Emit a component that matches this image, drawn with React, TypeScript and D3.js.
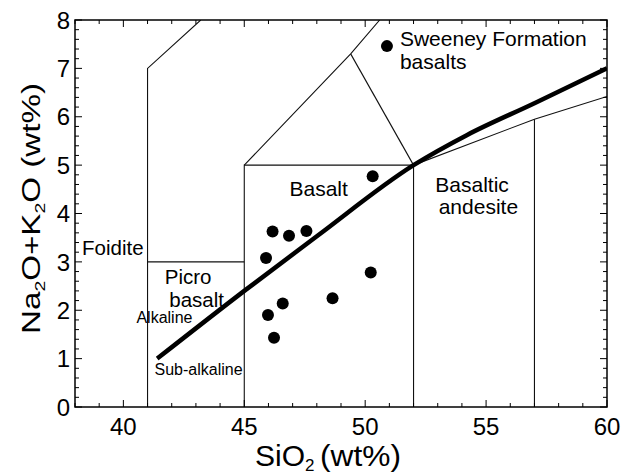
import React from "react";
import * as d3 from "d3";

// ---- Data ----
const sampleSiO2 = [50.31, 46.17, 46.85, 47.57, 45.9, 50.23, 48.65, 46.59, 45.98, 46.23];
const sampleAlk = [4.77, 3.63, 3.54, 3.64, 3.08, 2.78, 2.25, 2.14, 1.9, 1.43];

const legendLabel = ["Sweeney Formation", "basalts"];
const legendPoint: [number, number] = [50.9, 7.46];

// TAS field boundaries (SiO2, Na2O+K2O)
const boundaries: [number, number][][] = [
  [[41, 0], [41, 7], [43.2, 8]],
  [[41, 3], [45, 3]],
  [[45, 0], [45, 5], [52, 5], [52, 0]],
  [[45, 5], [49.4, 7.3], [50.6, 8]],
  [[49.4, 7.3], [52, 5]],
  [[52, 5], [57, 5.95], [60, 6.42]],
  [[57, 0], [57, 5.95]],
];

// Alkaline / sub-alkaline divide
const divideSiO2 = [41.4, 45, 48, 52, 54.2, 57, 60];
const divideAlk = [1.0, 2.4, 3.53, 5.0, 5.62, 6.28, 7.0];

const xTickLabels = [40, 45, 50, 55, 60];
const yTickLabels = [0, 1, 2, 3, 4, 5, 6, 7, 8];

const fieldLabels = [
  { text: "Foidite", x: 38.29, y: 3.14, size: 20.5 },
  { text: "Picro", x: 41.71, y: 2.55, size: 20.5 },
  { text: "basalt", x: 41.9, y: 2.07, size: 20.5 },
  { text: "Alkaline", x: 40.54, y: 1.73, size: 16 },
  { text: "Sub-alkaline", x: 41.29, y: 0.66, size: 16 },
  { text: "Basalt", x: 46.87, y: 4.36, size: 21 },
  { text: "Basaltic", x: 52.9, y: 4.45, size: 21 },
  { text: "andesite", x: 53.04, y: 4.0, size: 21 },
];

const W = 635;
const H = 476;
const M = { left: 75, top: 20, right: 607, bottom: 407 };
const FONT = "'Liberation Sans', Arial, sans-serif";

export default function App() {
  const x = d3.scaleLinear().domain([38, 60]).range([M.left, M.right]);
  const y = d3.scaleLinear().domain([0, 8]).range([M.bottom, M.top]);
  const line = d3
    .line<[number, number]>()
    .x((d) => x(d[0]))
    .y((d) => y(d[1]));

  const xMinor = d3.range(38, 60.001, 1);
  const yMinor = d3.range(0, 8.001, 0.2).map((v) => Math.round(v * 10) / 10);
  const isMajorX = (v: number) => Math.abs(v % 5) < 1e-6;
  const isMajorY = (v: number) => Math.abs(v - Math.round(v)) < 1e-6;

  const divide: [number, number][] = divideSiO2.map((s, i) => [s, divideAlk[i]]);

  return (
    <svg
      width={W}
      height={H}
      style={{ position: "absolute", left: 0, top: 0, background: "#fff" }}
      fontFamily={FONT}
    >
      <rect x={0} y={0} width={W} height={H} fill="#fff" />
      <defs>
        <clipPath id="plot">
          <rect x={M.left} y={M.top} width={M.right - M.left} height={M.bottom - M.top} />
        </clipPath>
      </defs>

      {/* field boundaries */}
      <g clipPath="url(#plot)" fill="none" stroke="#111" strokeWidth={1.1}>
        {boundaries.map((b, i) => (
          <path key={i} d={line(b) || ""} />
        ))}
        <path
          d={d3.line<[number, number]>().x((d) => x(d[0])).y((d) => y(d[1])).curve(d3.curveMonotoneX)(divide) || ""}
          stroke="#000"
          strokeWidth={4.5}
        />
      </g>

      {/* ticks */}
      <g stroke="#000" strokeWidth={1}>
        {xMinor.map((v) => {
          const len = isMajorX(v) ? 7 : 4;
          return (
            <g key={"x" + v}>
              <line x1={x(v)} x2={x(v)} y1={M.bottom} y2={M.bottom - len} />
              <line x1={x(v)} x2={x(v)} y1={M.top} y2={M.top + len} />
            </g>
          );
        })}
        {yMinor.map((v) => {
          const len = isMajorY(v) ? 7 : 4;
          return (
            <g key={"y" + v}>
              <line x1={M.left} x2={M.left + len} y1={y(v)} y2={y(v)} />
              <line x1={M.right} x2={M.right - len} y1={y(v)} y2={y(v)} />
            </g>
          );
        })}
      </g>

      {/* frame */}
      <rect
        x={M.left}
        y={M.top}
        width={M.right - M.left}
        height={M.bottom - M.top}
        fill="none"
        stroke="#000"
        strokeWidth={1.5}
      />

      {/* tick labels */}
      <g fontSize={24} fill="#000">
        {xTickLabels.map((v) => (
          <text key={"xl" + v} x={x(v)} y={M.bottom + 28} textAnchor="middle">
            {v}
          </text>
        ))}
        {yTickLabels.map((v) => (
          <text key={"yl" + v} x={M.left - 5} y={y(v)} dy="0.36em" textAnchor="end">
            {v}
          </text>
        ))}
      </g>

      {/* field labels */}
      <g fill="#000">
        {fieldLabels.map((l) => (
          <text key={l.text} x={x(l.x)} y={y(l.y)} fontSize={l.size}>
            {l.text}
          </text>
        ))}
      </g>

      {/* samples */}
      <g fill="#000">
        {sampleSiO2.map((s, i) => (
          <circle key={i} cx={x(s)} cy={y(sampleAlk[i])} r={6} />
        ))}
        <circle cx={x(legendPoint[0])} cy={y(legendPoint[1])} r={6} />
      </g>
      <g fill="#000" fontSize={21}>
        <text x={x(legendPoint[0]) + 13} y={y(legendPoint[1]) + 0}>
          {legendLabel[0]}
        </text>
        <text x={x(legendPoint[0]) + 13} y={y(legendPoint[1]) + 23}>
          {legendLabel[1]}
        </text>
      </g>

      {/* axis titles */}
      <text x={255} y={466} fontSize={30} fill="#000">
        SiO
        <tspan fontSize={17} dy={5}>2</tspan>
      </text>
      <text x={320} y={466} fontSize={30} fill="#000" textLength={81} lengthAdjust="spacingAndGlyphs">
        (wt%)
      </text>
      <g transform="translate(40,208.5) rotate(-90) scale(1.3,1)">
        <text x={0} y={0} textAnchor="middle" fontSize={25.5} fill="#000">
          Na
          <tspan fontSize={15} dy={5}>2</tspan>
          <tspan dy={-5}>O+K</tspan>
          <tspan fontSize={15} dy={5}>2</tspan>
          <tspan dy={-5}>O (wt%)</tspan>
        </text>
      </g>
    </svg>
  );
}
